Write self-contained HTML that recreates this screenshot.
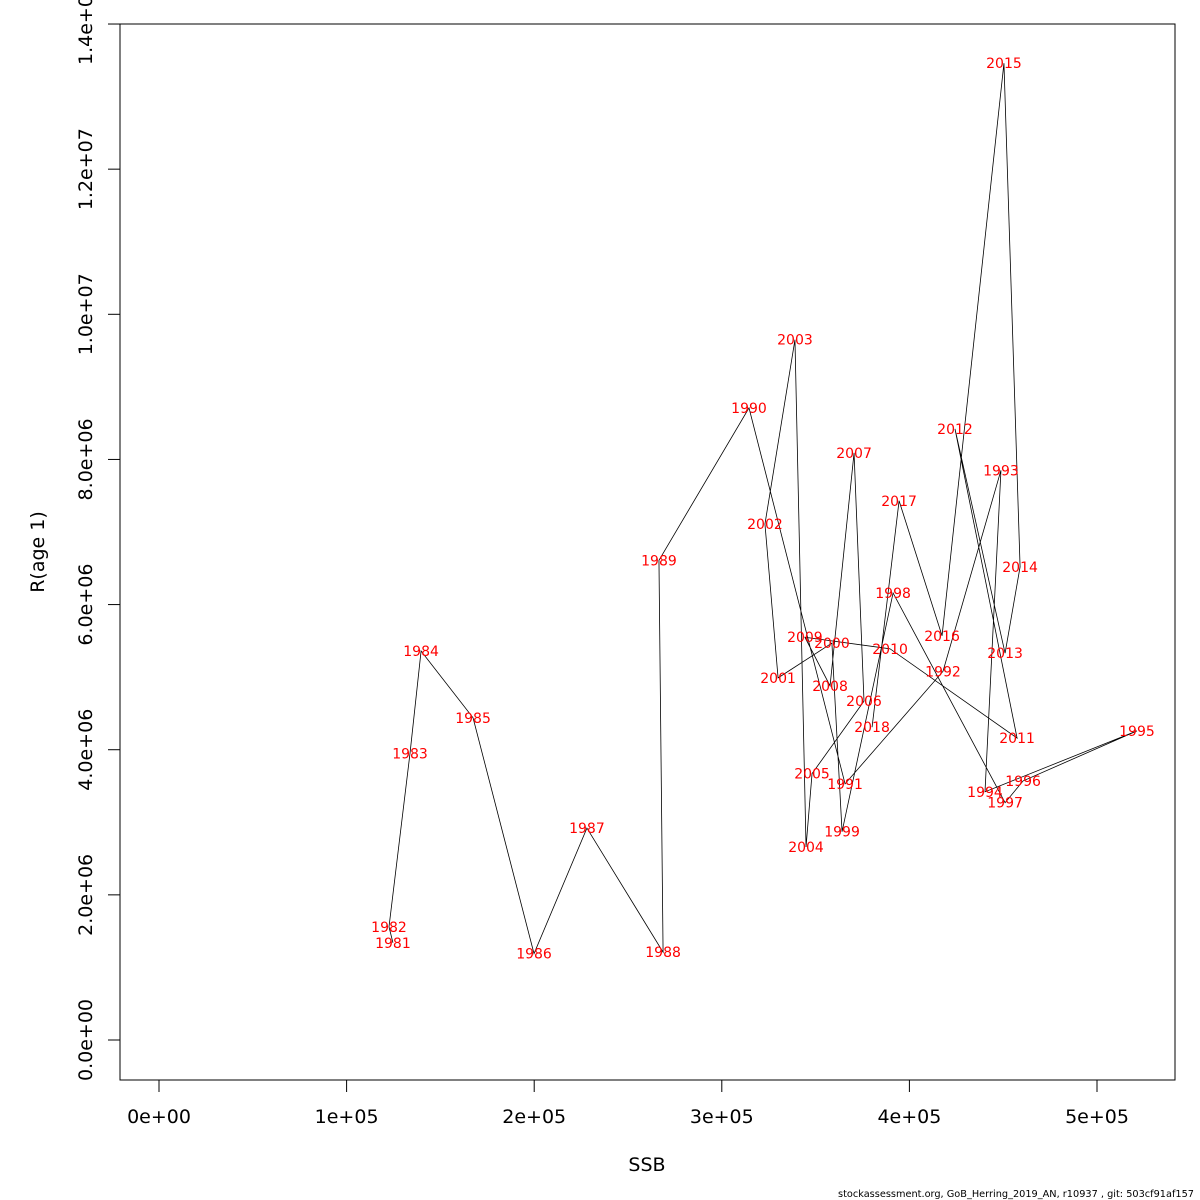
<!DOCTYPE html>
<html><head><meta charset="utf-8"><style>
html,body{margin:0;padding:0;background:#fff;}
svg{display:block;font-family:"DejaVu Sans","Liberation Sans",sans-serif;}
</style></head><body>
<svg id="chart" width="1200" height="1200" viewBox="0 0 1200 1200">
<rect x="0" y="0" width="1200" height="1200" fill="#fff"/>
<rect x="120" y="24" width="1055" height="1056" fill="none" stroke="#000" stroke-width="1"/>
<g id="xaxis"></g>
<g id="yaxis"></g>
<g id="series"></g>
<text x="647" y="1171" font-size="19" text-anchor="middle">SSB</text>
<text transform="translate(44,552) rotate(-90)" font-size="19" text-anchor="middle">R(age 1)</text>
<text x="838" y="1197" font-size="10" textLength="356" lengthAdjust="spacingAndGlyphs">stockassessment.org, GoB_Herring_2019_AN, r10937 , git: 503cf91af157</text>
</svg>
<script>
const years = [1981,1982,1983,1984,1985,1986,1987,1988,1989,1990,1991,1992,1993,1994,1995,1996,1997,1998,1999,2000,2001,2002,2003,2004,2005,2006,2007,2008,2009,2010,2011,2012,2013,2014,2015,2016,2017,2018];
const ssb = [124.7,122.6,133.8,139.7,167.4,199.9,228.1,268.7,266.5,314.5,365.7,417.9,448.8,440.3,521.3,460.6,451.0,391.3,364.1,358.7,330.0,323.0,339.0,344.9,348.1,375.8,370.5,357.7,344.3,389.7,457.4,424.3,451.0,459.0,450.4,417.4,394.5,380.1]; // thousands
const rec = [1.34,1.56,3.95,5.36,4.44,1.19,2.92,1.21,6.61,8.71,3.53,5.08,7.85,3.42,4.26,3.57,3.27,6.16,2.87,5.47,4.99,7.11,9.65,2.66,3.67,4.67,8.09,4.88,5.55,5.39,4.16,8.42,5.33,6.52,13.46,5.57,7.43,4.31]; // millions
const xTicks = [0,100,200,300,400,500];
const xTickLabels = ["0e+00","1e+05","2e+05","3e+05","4e+05","5e+05"];
const yTicks = [0,2,4,6,8,10,12,14];
const yTickLabels = ["0.0e+00","2.0e+06","4.0e+06","6.0e+06","8.0e+06","1.0e+07","1.2e+07","1.4e+07"];

const NS="http://www.w3.org/2000/svg";
const sx = v => 159 + v*1.876;
const sy = v => 1040 - v*72.57;
function mk(tag, attrs, parent){const e=document.createElementNS(NS,tag);for(const k in attrs)e.setAttribute(k,attrs[k]);parent.appendChild(e);return e;}

const xa=document.getElementById('xaxis');
mk('line',{x1:sx(xTicks[0]),x2:sx(xTicks[xTicks.length-1]),y1:1080,y2:1080,stroke:'#000'},xa);
xTicks.forEach((t,i)=>{
  const l=mk('line',{x1:sx(t),x2:sx(t),y1:1080,y2:1092,stroke:'#000'},xa);
  
  
  const tx=mk('text',{x:sx(t),y:1123,'font-size':19,'text-anchor':'middle'},xa);
  tx.textContent=xTickLabels[i];
  
  
});
const ya=document.getElementById('yaxis');
mk('line',{x1:120,x2:120,y1:sy(yTicks[0]),y2:sy(yTicks[yTicks.length-1]),stroke:'#000'},ya);
yTicks.forEach((t,i)=>{
  const l=mk('line',{x1:108,x2:120,y1:sy(t),y2:sy(t),stroke:'#000'},ya);
  
  
  const tx=mk('text',{transform:`translate(92,${sy(t)}) rotate(-90)`,'font-size':19,'text-anchor':'middle'},ya);
  tx.textContent=yTickLabels[i];
  
  
});

const g=document.getElementById('series');
const pl=mk('polyline',{points:years.map((y,i)=>sx(ssb[i])+','+sy(rec[i])).join(' '),fill:'none',stroke:'#000','stroke-width':0.8},g);


years.forEach((y,i)=>{
  const t=mk('text',{x:sx(ssb[i]),y:sy(rec[i])+5,'font-size':14,'text-anchor':'middle',fill:'#ff0000'},g);
  t.textContent=y;
  
  
});
</script>
</body></html>
